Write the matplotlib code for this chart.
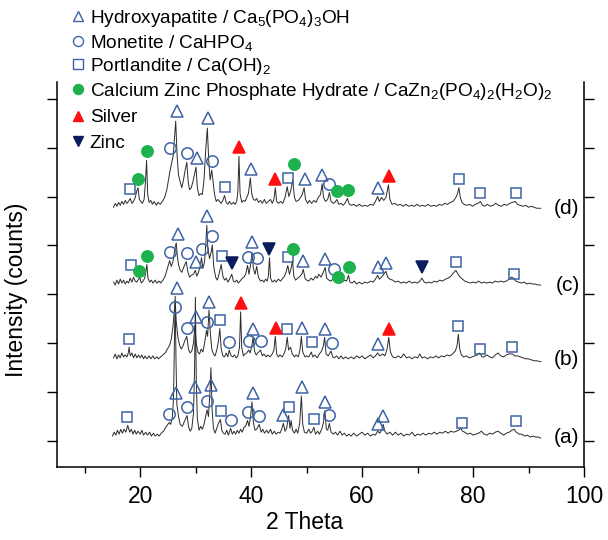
import numpy as np
import matplotlib
matplotlib.use('Agg')
import matplotlib.pyplot as plt
from matplotlib.ticker import MultipleLocator, FixedLocator

plt.rcParams['font.family'] = ['Liberation Sans', 'DejaVu Sans']
plt.rcParams['mathtext.fontset'] = 'custom'
plt.rcParams['mathtext.rm'] = 'Liberation Sans'
plt.rcParams['mathtext.it'] = 'Liberation Sans:italic'

# XRD patterns, (2 theta, intensity above own baseline)
trace_a = [(15.0,2),(15.3,6),(15.6,3),(15.9,8),(16.2,4),(16.5,9),(16.8,5),(17.1,9),(17.4,6),(17.75,13),(18.1,6),(18.4,9),
           (18.7,4),(19.0,8),(19.3,4),(19.6,7),(20.0,4),(20.3,8),(20.6,3),(21.0,6),(21.3,3),(21.7,6),(22.0,2),(22.4,5),
           (22.7,2),(23.1,4),(23.4,2),(23.8,5),(24.2,7),(24.6,11),(25.0,14),(25.25,16),(25.5,14),(25.8,22),(26.0,40),
           (26.15,90),(26.3,145),(26.45,80),(26.6,35),(26.9,22),(27.2,14),(27.6,12),(27.9,16),(28.2,20),(28.45,23),
           (28.7,12),(29.0,7),(29.3,10),(29.6,25),(29.8,70),(29.95,144),(30.1,60),(30.3,20),(30.6,8),(30.9,12),(31.2,9),
           (31.5,14),(31.8,22),(32.05,29),(32.3,22),(32.55,45),(32.75,72),(32.95,30),(33.2,10),(33.5,5),(33.8,10),
           (34.1,15),(34.45,19),(34.7,8),(35.0,5),(35.3,4),(35.6,8),(35.9,3),(36.3,10),(36.6,4),(36.9,7),(37.2,4),
           (37.5,8),(37.8,5),(38.1,9),(38.4,6),(38.7,11),(39.0,12),(39.35,18),(39.6,12),(39.9,22),(40.15,37),(40.4,16),
           (40.7,8),(41.0,9),(41.45,14),(41.8,6),(42.1,9),(42.4,5),(42.8,8),(43.1,5),(43.5,9),(43.8,4),(44.2,7),(44.5,4),
           (44.9,6),(45.2,5),(45.5,9),(45.8,15),(46.1,7),(46.4,10),(46.75,23),(47.0,10),(47.2,18),(47.45,8),(47.8,5),
           (48.1,9),(48.4,5),(48.75,15),(49.05,43),(49.3,14),(49.6,6),(50.0,5),(50.4,9),(50.7,5),(51.0,7),(51.3,11),
           (51.6,4),(52.0,7),(52.3,4),(52.7,9),(53.0,15),(53.3,28),(53.55,9),(53.8,8),(54.1,15),(54.4,6),(54.8,4),
           (55.2,6),(55.6,3),(56.0,7),(56.4,3),(56.8,5),(57.2,2),(57.6,4),(58.0,2),(58.5,5),(59.0,2),(59.5,4),(60.0,6),
           (60.5,3),(61.0,5),(61.5,2),(62.0,4),(62.4,3),(62.8,7),(63.2,5),(63.5,8),(63.8,14),(64.1,7),(64.5,4),(65.0,6),
           (65.5,3),(66.0,6),(66.5,3),(67.0,5),(67.5,2),(68.0,4),(68.5,3),(69.0,6),(69.5,2),(70.0,4),(70.5,3),(71.0,5),
           (71.5,3),(72.0,5),(72.5,4),(73.0,6),(73.5,4),(74.0,6),(74.5,5),(75.0,7),(75.5,5),(76.0,7),(76.5,6),(77.0,7),
           (77.4,8),(77.8,10),(78.1,7),(78.5,6),(79.0,4),(79.5,5),(80.0,3),(80.5,4),(81.0,5),(81.5,7),(82.0,4),(82.5,3),
           (83.0,5),(83.5,4),(84.0,6),(84.5,7),(85.0,5),(85.5,3),(86.0,5),(86.5,6),(87.0,8),(87.4,9),(87.8,6),(88.3,4),
           (88.8,4),(89.3,2),(89.8,3),(90.3,1),(90.8,2),(91.3,1),(91.8,1),(92.2,0)]

trace_b = [(15.2,3),(15.5,7),(15.8,2),(16.1,6),(16.4,3),(16.7,8),(17.0,4),(17.3,6),(17.6,4),(17.85,8),(18.0,14),(18.2,5),
           (18.5,8),(18.8,3),(19.1,7),(19.4,3),(19.7,6),(20.0,3),(20.3,6),(20.6,2),(20.9,5),(21.2,2),(21.6,5),(21.9,2),
           (22.3,5),(22.6,2),(23.0,4),(23.3,2),(23.7,4),(24.1,6),(24.5,8),(24.9,12),(25.3,16),(25.6,22),(25.9,35),
           (26.1,48),(26.3,62),(26.5,40),(26.8,24),(27.1,16),(27.4,12),(27.7,15),(28.0,20),(28.4,25),(28.7,12),(29.0,8),
           (29.3,10),(29.6,18),(29.85,36),(30.1,18),(30.4,9),(30.7,7),(31.0,12),(31.3,9),(31.6,18),(31.95,31),(32.15,25),
           (32.4,52),(32.65,28),(32.9,12),(33.2,7),(33.5,5),(33.8,11),(34.1,20),(34.35,33),(34.6,12),(34.9,5),(35.2,4),
           (35.5,8),(35.8,4),(36.05,11),(36.4,5),(36.7,4),(37.0,6),(37.3,3),(37.6,5),(37.9,14),(38.1,50),(38.3,14),
           (38.6,5),(38.9,7),(39.2,8),(39.55,11),(39.8,8),(40.1,14),(40.35,24),(40.6,10),(40.9,6),(41.2,8),(41.7,11),
           (42.0,5),(42.3,7),(42.7,4),(43.0,6),(43.4,4),(43.8,7),(44.1,11),(44.35,25),(44.6,7),(44.9,4),(45.2,6),(45.6,4),
           (46.0,8),(46.25,13),(46.5,24),(46.75,11),(47.1,14),(47.4,7),(47.8,4),(48.1,6),(48.5,4),(48.8,11),(49.05,25),
           (49.3,9),(49.7,4),(50.0,5),(50.4,4),(50.85,9),(51.1,4),(51.5,6),(51.9,3),(52.3,7),(52.7,10),(53.0,15),
           (53.25,24),(53.5,7),(53.9,5),(54.4,10),(54.7,4),(55.0,3),(55.4,5),(55.8,2),(56.2,5),(56.6,2),(57.0,4),(57.5,2),
           (58.0,4),(58.5,2),(59.0,5),(59.5,3),(60.0,5),(60.5,2),(61.0,4),(61.5,6),(62.0,3),(62.4,5),(62.8,8),(63.2,5),
           (63.7,7),(64.1,5),(64.5,12),(64.8,24),(65.1,9),(65.5,4),(66.0,3),(66.5,5),(67.0,3),(67.5,7),(68.0,3),(68.5,4),
           (69.0,2),(69.5,4),(70.0,3),(70.4,7),(70.8,3),(71.3,4),(71.8,2),(72.3,4),(72.8,3),(73.3,5),(73.8,3),(74.3,5),
           (74.8,4),(75.3,6),(75.8,5),(76.3,7),(76.8,10),(77.1,15),(77.35,27),(77.6,12),(77.9,6),(78.3,4),(78.8,5),
           (79.3,3),(79.8,4),(80.3,5),(80.8,6),(81.2,8),(81.6,4),(82.0,4),(82.5,6),(83.0,4),(83.5,3),(84.0,6),(84.5,8),
           (85.0,5),(85.5,4),(86.0,6),(86.5,7),(87.1,7),(87.5,5),(88.0,5),(88.5,4),(89.0,3),(89.5,2),(90.0,2),(90.5,1),
           (91.0,0),(91.5,0),(92.2,-1)]

trace_c = [(15.2,4),(15.5,1),(15.8,6),(16.1,2),(16.4,7),(16.7,3),(17.0,6),(17.3,2),(17.6,5),(17.9,3),(18.2,8),(18.5,4),
           (18.8,9),(19.1,5),(19.4,4),(19.7,7),(19.95,8),(20.2,3),(20.5,5),(20.8,8),(21.0,14),(21.2,22),(21.4,8),(21.7,4),
           (22.0,6),(22.3,3),(22.7,6),(23.0,3),(23.4,5),(23.7,3),(24.1,6),(24.5,10),(24.9,18),(25.3,26),(25.6,20),
           (25.9,25),(26.1,32),(26.3,40),(26.5,44),(26.7,30),(26.9,22),(27.2,16),(27.5,14),(27.9,20),(28.3,25),(28.6,14),
           (28.9,9),(29.2,11),(29.6,12),(29.95,16),(30.2,10),(30.5,14),(30.8,20),(31.05,29),(31.3,18),(31.6,25),
           (31.85,45),(32.0,62),(32.2,38),(32.5,28),(32.8,35),(33.0,42),(33.25,20),(33.6,9),(33.9,6),(34.2,12),(34.6,22),
           (34.9,10),(35.2,6),(35.5,8),(35.8,4),(36.1,7),(36.5,12),(36.8,5),(37.1,4),(37.4,6),(37.7,3),(38.0,5),(38.4,8),
           (38.7,9),(39.0,12),(39.35,21),(39.6,12),(39.9,22),(40.15,34),(40.4,18),(40.7,12),(41.0,20),(41.3,9),(41.7,5),
           (42.0,6),(42.3,4),(42.6,7),(42.9,5),(43.1,10),(43.3,29),(43.5,8),(43.8,4),(44.2,6),(44.5,4),(44.9,7),(45.3,5),
           (45.7,8),(46.0,10),(46.3,14),(46.6,21),(46.9,12),(47.2,18),(47.45,26),(47.7,10),(48.0,6),(48.4,8),(48.8,10),
           (49.1,12),(49.4,17),(49.7,8),(50.0,6),(50.4,5),(50.8,8),(51.2,6),(51.6,10),(51.9,8),(52.2,12),(52.6,9),
           (53.0,14),(53.35,19),(53.6,8),(54.0,6),(54.4,5),(54.7,7),(55.0,9),(55.3,4),(55.7,5),(56.0,3),(56.4,4),
           (56.8,6),(57.2,5),(57.55,11),(57.8,4),(58.2,3),(58.6,5),(59.0,2),(59.5,4),(60.0,2),(60.5,4),(61.0,3),(61.5,5),
           (62.0,4),(62.4,7),(62.8,11),(63.1,7),(63.5,9),(63.9,12),(64.3,15),(64.6,9),(65.0,7),(65.5,6),(66.0,4),(66.5,5),
           (67.0,3),(67.5,4),(68.0,3),(68.5,5),(69.0,3),(69.5,4),(70.0,3),(70.4,5),(70.8,8),(71.2,4),(71.6,3),(72.0,4),
           (72.5,3),(73.0,5),(73.5,4),(74.0,6),(74.5,5),(75.0,7),(75.5,8),(76.0,10),(76.4,13),(76.9,16),(77.3,12),
           (77.7,9),(78.1,7),(78.5,5),(79.0,4),(79.5,3),(80.0,4),(80.5,3),(81.0,5),(81.5,3),(82.0,4),(82.5,3),(83.0,4),
           (83.5,3),(84.0,5),(84.5,4),(85.0,5),(85.5,4),(86.0,5),(86.5,7),(86.9,9),(87.3,8),(87.7,5),(88.2,4),(88.7,3),
           (89.2,4),(89.7,2),(90.2,3),(90.7,2),(91.2,2),(91.7,1),(92.2,1)]

trace_d = [(15.2,2),(15.5,6),(15.8,3),(16.1,7),(16.4,4),(16.7,8),(17.0,5),(17.3,9),(17.6,6),(17.9,8),(18.2,11),(18.5,6),
           (18.8,8),(19.1,12),(19.35,18),(19.6,22),(19.85,10),(20.1,8),(20.4,6),(20.7,10),(20.95,28),(21.15,50),
           (21.35,15),(21.6,7),(21.9,9),(22.2,5),(22.5,8),(22.9,4),(23.2,7),(23.6,5),(24.0,8),(24.4,12),(24.8,20),
           (25.1,30),(25.4,40),(25.7,48),(25.95,55),(26.15,70),(26.4,90),(26.65,55),(26.9,35),(27.2,28),(27.5,22),
           (27.8,30),(28.1,40),(28.4,48),(28.65,28),(28.9,20),(29.2,22),(29.5,28),(29.8,36),(30.05,43),(30.3,22),
           (30.6,14),(30.9,16),(31.2,15),(31.5,30),(31.8,60),(32.1,83),(32.35,50),(32.6,30),(32.9,40),(33.1,30),
           (33.4,15),(33.7,8),(34.0,10),(34.3,8),(34.6,6),(34.9,9),(35.2,14),(35.5,7),(35.8,5),(36.1,8),(36.4,5),
           (36.8,7),(37.1,5),(37.4,8),(37.6,18),(37.8,54),(38.0,16),(38.3,7),(38.6,9),(38.9,8),(39.2,12),(39.5,16),
           (39.85,32),(40.1,16),(40.4,10),(40.7,9),(41.0,11),(41.3,7),(41.7,9),(42.0,6),(42.4,10),(42.7,6),(43.1,8),
           (43.5,10),(43.8,6),(44.1,10),(44.35,22),(44.6,8),(44.9,6),(45.3,8),(45.7,6),(46.1,12),(46.5,23),(46.8,13),
           (47.1,18),(47.5,30),(47.8,12),(48.1,8),(48.5,9),(48.9,12),(49.2,15),(49.55,22),(49.8,10),(50.2,6),(50.5,9),
           (50.9,6),(51.3,9),(51.7,7),(52.1,12),(52.5,15),(52.8,26),(53.05,12),(53.4,8),(53.8,10),(54.1,17),(54.4,8),
           (54.8,6),(55.1,7),(55.45,10),(55.8,5),(56.2,6),(56.6,4),(57.0,7),(57.35,11),(57.7,5),(58.1,4),(58.5,5),
           (59.0,3),(59.5,5),(60.0,3),(60.5,4),(61.0,3),(61.5,5),(62.0,4),(62.4,8),(62.8,13),(63.1,8),(63.5,12),
           (63.9,9),(64.3,12),(64.75,25),(65.0,10),(65.4,5),(65.9,6),(66.4,4),(66.9,5),(67.4,3),(67.9,5),(68.4,3),
           (68.9,4),(69.4,3),(69.9,5),(70.4,3),(70.9,4),(71.4,3),(71.9,5),(72.4,3),(72.9,4),(73.4,3),(73.9,5),(74.4,4),
           (74.9,6),(75.4,5),(75.9,7),(76.4,8),(76.9,12),(77.2,16),(77.45,22),(77.7,12),(78.0,7),(78.4,5),(78.9,4),
           (79.4,5),(79.9,3),(80.4,5),(80.9,6),(81.3,8),(81.7,4),(82.1,3),(82.6,5),(83.1,3),(83.6,4),(84.1,6),(84.6,4),
           (85.1,3),(85.6,5),(86.1,4),(86.6,6),(87.1,7),(87.6,8),(88.0,5),(88.5,4),(89.0,3),(89.5,4),(90.0,2),(90.5,3),
           (91.0,2),(91.5,1),(92.2,1)]

labels = ['(a)', '(b)', '(c)', '(d)']
offsets = [3, 82, 158.5, 237]

# phase markers (2 theta, absolute y)
hydroxyapatite = [(26.4,48.8),(29.9,54.9),(32.7,57.3),(40.3,48.8),(45.8,26.6),(49.1,54.9),(53.4,40.2),(62.8,17.4),(63.8,25.6),
                  (26.7,156.4),(30.0,126.8),(32.4,142.4),(40.4,114.5),(49.1,115.8),(53.3,114.2),(62.8,98.9),
                  (26.8,211.4),(30.0,182.7),(32.0,230.1),(40.2,203.8),(49.4,184.0),(53.4,186.1),(62.8,178.2),(64.3,181.7),
                  (26.6,337.7),(30.2,289.1),(32.3,330.0),(40.0,277.8),(49.7,267.6),(52.8,272.0),(62.8,258.4)]
monetite = [(25.2,27.6),(28.5,35.1),(32.1,40.9),(36.4,21.2),(39.4,29.3),(41.5,25.3),(54.1,26.6),
            (26.3,137.3),(28.5,115.5),(32.1,122.0),(36.0,101.5),(39.6,102.2),(41.8,102.2),(54.5,100.5),
            (25.4,192.9),(28.4,191.9),(31.1,196.3),(33.0,209.9),(39.4,188.4),(41.0,187.4),(55.0,175.9),
            (25.4,299.3),(28.4,294.2),(33.0,286.3),(54.1,262.5)]
portlandite = [(17.7,24.2),(34.5,31.0),(46.9,34.5),(51.3,22.8),(78.0,18.1),(87.7,20.5),
               (18.0,104.3),(34.4,123.7),(46.5,114.2),(50.9,100.9),(77.3,117.6),(81.2,94.1),(87.1,95.8),
               (18.3,180.0),(34.7,189.5),(46.6,188.4),(76.9,182.7),(87.3,170.8),
               (18.2,257.4),(35.3,259.4),(46.7,269.2),(77.5,267.6),(81.3,253.3),(87.7,253.3)]
czph = [(19.8,173.8),(21.3,189.2),(47.5,196.0),(55.7,168.2),(57.6,177.9),
        (19.6,267.9),(21.3,296.8),(47.8,283.2),(55.5,255.9),(57.4,257.0)]
silver = [(38.1,140.8),(44.4,115.8),(64.8,114.5),
          (37.8,300.3),(44.3,267.6),(64.8,271.3)]
zinc = [(36.6,181.7),(43.3,196.0),(70.8,178.2)]

blue = '#3d63a6'
phases = [
    (hydroxyapatite, '^', 'none', blue, r'Hydroxyapatite / Ca$_5$(PO$_4$)$_3$OH'),
    (monetite, 'o', 'none', blue, r'Monetite / CaHPO$_4$'),
    (portlandite, 's', 'none', blue, r'Portlandite / Ca(OH)$_2$'),
    (czph, 'o', '#1db24e', '#1db24e', r'Calcium Zinc Phosphate Hydrate / CaZn$_2$(PO$_4$)$_2$(H$_2$O)$_2$'),
    (silver, '^', '#ff1010', '#ff1010', 'Silver'),
    (zinc, 'v', '#0b1c5e', '#0b1c5e', 'Zinc'),
]

fig = plt.figure(figsize=(6.08, 5.40), dpi=100)
ax = fig.add_axes([57/608, 73/540, 527/608, 385/540])

for tr, off, lab in zip([trace_a, trace_b, trace_c, trace_d], offsets, labels):
    tt, inten = np.array(tr).T
    ax.plot(tt, inten + off, color='#2b2b2b', lw=0.7, zorder=2)
    ax.text(99.2, off + 1, lab, ha='right', va='center', fontsize=15)

for pts, mk, fc, ec, name in phases:
    px, py = np.array(pts).T
    ms = 7.5 if mk == 's' else 8.2
    ax.plot(px, py, ls='none', marker=mk, ms=ms, mfc=fc, mec=ec, mew=1.1, zorder=3)

# legend rows, drawn by hand above the plot
row_px = [16, 41, 64, 89, 115.5, 141]
for (pts, mk, fc, ec, name), ry in zip(phases, row_px):
    yax = (467 - ry) / 385
    ms = 6.5 if mk == 's' else 7.2
    ax.plot([0.040], [yax], transform=ax.transAxes, ls='none', marker=mk, ms=ms,
            mfc=fc, mec=ec, mew=1.0, clip_on=False, zorder=6)
    ax.text(0.062, yax - 7/385, name, transform=ax.transAxes, ha='left', va='baseline',
            fontsize=13.7, zorder=6)

ax.set_xlim(5, 100)
ax.set_ylim(-26.6, 367.1)
ax.xaxis.set_major_locator(FixedLocator([20, 40, 60, 80, 100]))
ax.xaxis.set_minor_locator(MultipleLocator(10))
ax.yaxis.set_major_locator(MultipleLocator(50))
ax.tick_params(axis='both', which='major', direction='out', length=7, width=1, labelsize=16.5, pad=6)
ax.tick_params(axis='x', which='minor', direction='out', length=4, width=1)
ax.tick_params(axis='y', which='both', left=True, right=True, labelleft=False, labelright=False)
ax.spines['top'].set_visible(False)
for s in ['left', 'right', 'bottom']:
    ax.spines[s].set_linewidth(1.1)

ax.set_xlabel('2 Theta', fontsize=16.5)
ax.set_ylabel('Intensity (counts)', fontsize=16.5)
ax.xaxis.set_label_coords(0.469, -0.115)
ax.yaxis.set_label_coords(-0.055, 0.46)

fig.savefig('out.png', dpi=100)
